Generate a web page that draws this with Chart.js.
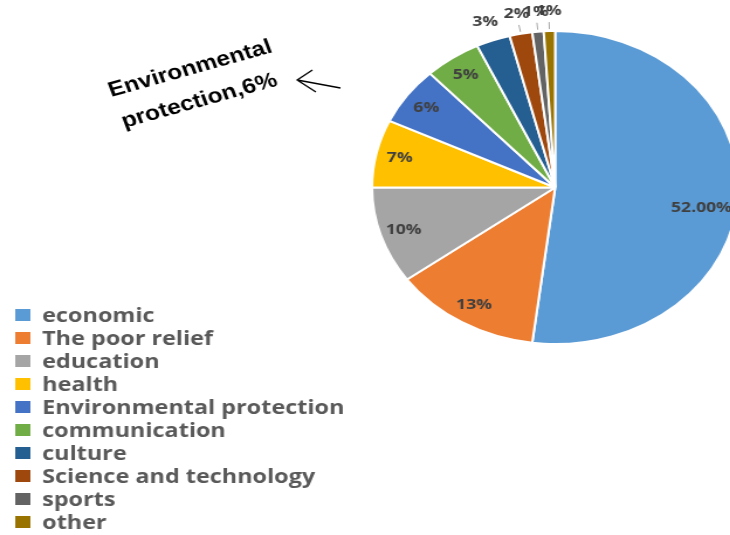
<!DOCTYPE html>
<html>
<head>
<meta charset="utf-8">
<script src="https://cdn.jsdelivr.net/npm/chart.js@4"></script>
<style>
  html, body { margin: 0; padding: 0; background: #fff; overflow: hidden; }
  #wrap { width: 640px; height: 535px; transform: scaleX(1.17); transform-origin: 0 0; }
</style>
</head>
<body>
<div id="wrap"><canvas id="pieChart" width="640" height="535"></canvas></div>
<script>
// datos del grafico
const categorias = ["economic", "The poor relief", "education", "health", "Environmental protection",
  "communication", "culture", "Science and technology", "sports", "other"];
const valores = [52, 13, 10, 7, 6, 5, 3, 2, 1, 1];
const etiquetas = ["52.00%", "13%", "10%", "7%", "6%", "5%", "3%", "2%", "1%", "1%"];
const colores = ["#5B9BD5", "#ED7D31", "#A5A5A5", "#FFC000", "#4472C4",
  "#70AD47", "#255E91", "#9E480E", "#636363", "#997300"];
const notaLineas = ["Environmental", "protection,6%"];

let ctx = document.getElementById("pieChart").getContext("2d");

// etiquetas de porcentaje sobre cada porcion
const pluginEtiquetas = {
  id: "etiquetas",
  afterDatasetsDraw(chart) {
    let c = chart.ctx;
    let arcos = chart.getDatasetMeta(0).data;
    c.save();
    c.font = "bold 15px 'Open Sans'";
    c.textAlign = "center";
    c.textBaseline = "middle";
    arcos.forEach(function (arc, i) {
      let mid = (arc.startAngle + arc.endAngle) / 2;
      let R = arc.outerRadius;
      let v = valores[i];
      c.fillStyle = "#404040";
      if (v > 3) {
        let r = R * 0.87;
        if (i === 0) { r = R * 0.81; mid += 0.1; }
        c.fillText(etiquetas[i], arc.x + Math.cos(mid) * r, arc.y + Math.sin(mid) * r);
      } else {
        if (v < 3) {
          c.strokeStyle = "#A6A6A6";
          c.lineWidth = 1;
          c.beginPath();
          c.moveTo(arc.x + Math.cos(mid) * (R + 2), arc.y + Math.sin(mid) * (R + 2));
          c.lineTo(arc.x + Math.cos(mid) * (R + 9), arc.y + Math.sin(mid) * (R + 9));
          c.stroke();
        }
        let r = R + 20;
        c.fillText(etiquetas[i], arc.x + Math.cos(mid) * r, arc.y + Math.sin(mid) * r);
      }
    });
    c.restore();
  }
};

// leyenda abajo a la izquierda + nota con flecha
const pluginLeyenda = {
  id: "leyenda",
  afterDraw(chart) {
    let c = chart.ctx;
    c.save();
    c.textBaseline = "middle";
    c.font = "bold 20px 'Open Sans'";
    chart.data.labels.forEach(function (lab, i) {
      let y = 315 + i * 23;
      c.fillStyle = colores[i];
      c.fillRect(13, y - 6, 13, 12);
      c.fillStyle = "#595959";
      c.fillText(lab, 36, y + 1);
    });

    // nota girada
    c.fillStyle = "#000";
    c.font = "bold 21px 'Liberation Sans'";
    c.textBaseline = "alphabetic";
    c.translate(95, 97);
    c.rotate(-18 * Math.PI / 180);
    c.fillText(notaLineas[0], 0, 0);
    c.fillText(notaLineas[1], 1, 33);
    c.setTransform(1, 0, 0, 1, 0, 0);

    // flecha
    c.strokeStyle = "#000";
    c.lineWidth = 1.3;
    c.beginPath();
    c.moveTo(291, 88);
    c.lineTo(254, 80);
    c.moveTo(267, 70);
    c.lineTo(254, 80);
    c.lineTo(270, 92);
    c.stroke();
    c.restore();
  }
};

let miPie = new Chart(ctx, {
  type: "pie",
  data: {
    labels: categorias,
    datasets: [{
      data: valores,
      backgroundColor: colores,
      borderColor: "#fff",
      borderWidth: 2
    }]
  },
  options: {
    responsive: false,
    animation: false,
    devicePixelRatio: 1,
    layout: { padding: { left: 317, right: 8, top: 30, bottom: 190 } },
    plugins: {
      legend: { display: false },
      tooltip: { enabled: false }
    }
  },
  plugins: [pluginEtiquetas, pluginLeyenda]
});
</script>
</body>
</html>
